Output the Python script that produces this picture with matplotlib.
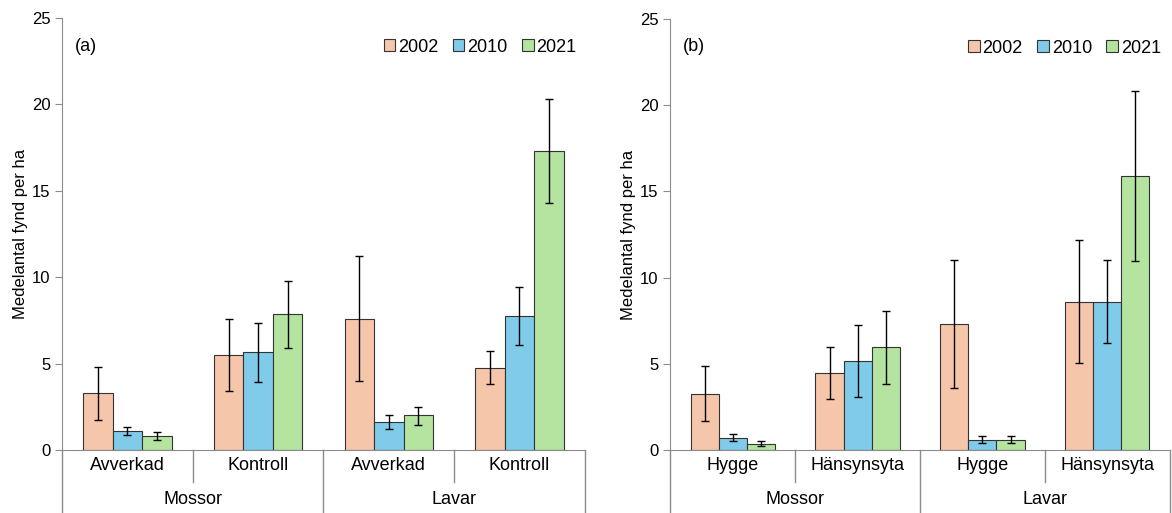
import numpy as np
import matplotlib.pyplot as plt
import matplotlib.transforms as mtransforms

plt.rcParams['font.family'] = ['Liberation Sans', 'DejaVu Sans']

# Data
years = ['2002', '2010', '2021']
colors = ['#F6C6AB', '#80CBEA', '#B4E4A0']
groups = ['Mossor', 'Lavar']
sub_a = ['Avverkad', 'Kontroll', 'Avverkad', 'Kontroll']
sub_b = ['Hygge', 'Hänsynsyta', 'Hygge', 'Hänsynsyta']

# panel (a): rows = year, cols = category
mean_a = [[3.3, 5.5, 7.6, 4.75],
          [1.1, 5.65, 1.6, 7.75],
          [0.8, 7.85, 2.0, 17.3]]
low_a = [[1.75, 3.4, 4.0, 3.8],
         [0.85, 3.95, 1.2, 6.1],
         [0.6, 5.9, 1.45, 14.3]]
high_a = [[4.8, 7.6, 11.2, 5.7],
          [1.35, 7.35, 2.0, 9.4],
          [1.05, 9.8, 2.5, 20.3]]

# panel (b)
mean_b = [[3.25, 4.45, 7.3, 8.6],
          [0.7, 5.15, 0.6, 8.6],
          [0.35, 5.95, 0.6, 15.9]]
low_b = [[1.65, 2.95, 3.6, 5.05],
         [0.5, 3.05, 0.4, 6.2],
         [0.2, 3.85, 0.4, 10.95]]
high_b = [[4.85, 5.95, 11.0, 12.2],
          [0.9, 7.25, 0.8, 11.0],
          [0.5, 8.05, 0.8, 20.85]]

fig = plt.figure(figsize=(11.72, 5.13), dpi=100)
ax_a = fig.add_axes([0.053, 0.123, 0.446, 0.842])
ax_b = fig.add_axes([0.572, 0.123, 0.426, 0.840])

gray = '#8c8c8c'


def draw_panel(ax, mean, low, high, subs, tag):
    x = np.arange(len(subs))
    w = 0.225
    for i, yr in enumerate(years):
        m = np.array(mean[i])
        lo = m - np.array(low[i])
        hi = np.array(high[i]) - m
        ax.bar(x + (i - 1) * w, m, w, color=colors[i], edgecolor='#333333',
               linewidth=0.8, label=yr, zorder=2)
        ax.errorbar(x + (i - 1) * w, m, yerr=[lo, hi], fmt='none',
                    ecolor='black', elinewidth=1, capsize=3, capthick=1, zorder=3)
    ax.set_xlim(-0.5, 3.5)
    ax.set_ylim(0, 25)
    ax.set_yticks([0, 5, 10, 15, 20, 25])
    ax.set_xticks([])
    for s in ['top', 'right']:
        ax.spines[s].set_visible(False)
    ax.spines['left'].set_color(gray)
    ax.spines['bottom'].set_color(gray)
    ax.tick_params(axis='y', colors=gray, labelcolor='black', labelsize=12,
                   length=5, direction='out')
    ax.set_ylabel('Medelantal fynd per ha', fontsize=12, labelpad=3)

    trans = mtransforms.blended_transform_factory(ax.transData, ax.transAxes)
    # separators
    for xs in [0.5, 2.5]:
        ax.plot([xs, xs], [0, -0.074], color=gray, lw=1, transform=trans, clip_on=False)
    for xs in [-0.5, 1.5, 3.5]:
        ax.plot([xs, xs], [0, -0.15], color=gray, lw=1, transform=trans, clip_on=False)
    for xi, s in zip(x, subs):
        ax.text(xi, -0.036, s, transform=trans, ha='center', va='center', fontsize=13)
    for gi, g in enumerate(groups):
        ax.text(0.5 + 2 * gi, -0.114, g, transform=trans, ha='center', va='center', fontsize=13)

    ax.text(0.025, 0.935, tag, transform=ax.transAxes, fontsize=13, va='center')
    ax.legend(loc='upper right', bbox_to_anchor=(1.015, 0.99), ncol=3, frameon=False,
              fontsize=13, handlelength=0.65, handleheight=0.65, handletextpad=0.15,
              columnspacing=0.8)


draw_panel(ax_a, mean_a, low_a, high_a, sub_a, '(a)')
draw_panel(ax_b, mean_b, low_b, high_b, sub_b, '(b)')

fig.savefig('out.png', dpi=100)
